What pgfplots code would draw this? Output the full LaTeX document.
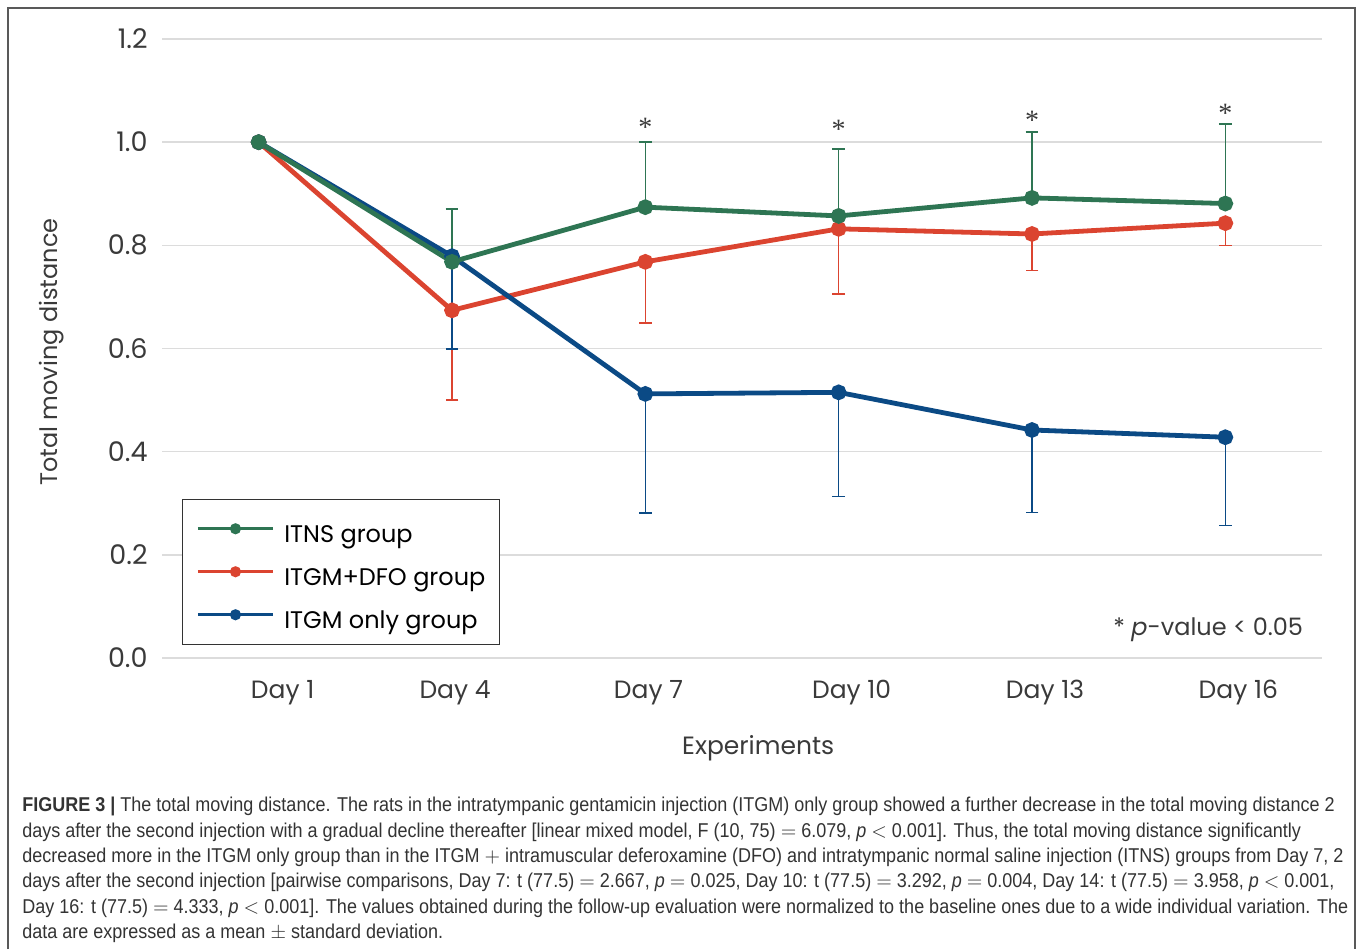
\documentclass[border=0pt]{standalone}
\usepackage{fontspec}
\setmainfont{Poppins}
\newfontfamily\capfont[FakeStretch=0.9]{Liberation Sans}
\newfontfamily\starfont{Liberation Serif}
\usepackage{pgfplots}
\usepackage{pgfplotstable}
\pgfplotsset{compat=1.18}

\definecolor{cgreen}{HTML}{2E7553}
\definecolor{cred}{HTML}{DB4430}
\definecolor{cblue}{HTML}{0B4A85}
\definecolor{cgrid}{HTML}{DCDCDC}
\definecolor{ctext}{HTML}{3A3A3A}

% normalised total moving distance, mean and one-sided SD bar
\pgfplotstableread{
x y e
0 1.000 0
1 0.768 0.103
2 0.874 0.126
3 0.857 0.130
4 0.892 0.128
5 0.881 0.154
}\itns
\pgfplotstableread{
x y e
0 1.000 0
1 0.674 0.174
2 0.768 0.118
3 0.832 0.126
4 0.822 0.071
5 0.843 0.043
}\dfo
\pgfplotstableread{
x y e
0 1.000 0
1 0.779 0.180
2 0.512 0.231
3 0.515 0.202
4 0.442 0.160
5 0.428 0.171
}\itgm

\begin{document}
\begin{tikzpicture}
\useasboundingbox (0,0) rectangle (679pt,474.5pt);
\draw[color=black!65, line width=1pt] (4pt,0) -- (4pt,470.5pt) -- (677.5pt,470.5pt) -- (677.5pt,0);
\begin{axis}[
  at={(81pt,145.5pt)}, anchor=south west,
  scale only axis, width=580pt, height=309.5pt,
  xmin=-0.5, xmax=5.5, ymin=0, ymax=1.2,
  ytick={0,0.2,0.4,0.6,0.8,1.0,1.2},
  xtick={0.124,1.016,2.016,3.067,4.067,5.067},
  xticklabels={Day 1,Day 4,Day 7,Day 10,Day 13,Day 16},
  ymajorgrids, xmajorgrids=false,
  grid style={cgrid, line width=0.75pt},
  axis line style={draw=none},
  major tick length=0pt,
  /pgf/number format/assume math mode=true,
  tick label style={text=ctext},
  yticklabel style={/pgf/number format/fixed, /pgf/number format/fixed zerofill,
    /pgf/number format/precision=1, anchor=east, inner sep=0pt, xshift=-7pt,
    font=\fontsize{13.5}{15}\selectfont},
  xticklabel style={anchor=north, inner sep=0pt, yshift=-11pt,
    font=\fontsize{12.5}{15}\selectfont},
  xlabel={Experiments},
  xlabel style={at={(axis description cs:0.514,-0.1453)}, anchor=center,
    font=\fontsize{12.5}{15}\selectfont, text=ctext},
  ylabel={Total moving distance},
  ylabel style={at={(axis description cs:-0.0948,0.494)}, anchor=center,
    font=\fontsize{12}{15}\selectfont, text=ctext},
  legend image code/.code={
    \draw[#1, line width=1.3pt] (0pt,0pt) -- (37.5pt,0pt);
    \fill[#1] (18.75pt,0pt) circle (2.4pt);},
  legend style={at={(rel axis cs:0.0172,0.021)}, anchor=south west,
    draw=black!80, line width=0.75pt,
    font=\fontsize{12}{15}\selectfont,
    nodes={inner sep=0pt, text height=15pt, text depth=1pt},
    column sep=5pt, row sep=5.5pt, inner xsep=7pt, inner ysep=6.75pt},
  legend cell align=left,
]
\addplot[cred, line width=2.4pt, mark=*, mark size=2.7pt, mark options={solid},
  forget plot,
  error bars/.cd, y dir=minus, y explicit,
  error bar style={line width=0.8pt, cred},
  error mark options={rotate=90, mark size=3.2pt, line width=0.8pt, cred}]
  table[x=x, y=y, y error=e]{\dfo};
\addplot[cblue, line width=2.4pt, mark=*, mark size=2.7pt, mark options={solid},
  forget plot,
  error bars/.cd, y dir=minus, y explicit,
  error bar style={line width=0.8pt, cblue},
  error mark options={rotate=90, mark size=3.2pt, line width=0.8pt, cblue}]
  table[x=x, y=y, y error=e]{\itgm};
\addplot[cgreen, line width=2.4pt, mark=*, mark size=2.7pt, mark options={solid},
  forget plot,
  error bars/.cd, y dir=plus, y explicit,
  error bar style={line width=0.8pt, cgreen},
  error mark options={rotate=90, mark size=3.2pt, line width=0.8pt, cgreen}]
  table[x=x, y=y, y error=e]{\itns};
\addlegendimage{cgreen}
\addlegendentry{ITNS group}
\addlegendimage{cred}
\addlegendentry{ITGM+DFO group}
\addlegendimage{cblue}
\addlegendentry{ITGM only group}
% significance stars above the ITNS error bars
\node[font=\starfont\fontsize{14}{14}\selectfont, text=ctext, anchor=base] at (axis cs:2,1.011) {*};
\node[font=\starfont\fontsize{14}{14}\selectfont, text=ctext, anchor=base] at (axis cs:3,1.007) {*};
\node[font=\starfont\fontsize{14}{14}\selectfont, text=ctext, anchor=base] at (axis cs:4,1.025) {*};
\node[font=\starfont\fontsize{14}{14}\selectfont, text=ctext, anchor=base] at (axis cs:5,1.038) {*};
\node[font=\fontsize{12}{15}\selectfont, text=ctext, anchor=base east, inner sep=0pt]
  at (axis cs:5.404,0.0446) {* \textit{p}-value < 0.05};
\end{axis}
\node[anchor=north west, inner sep=0pt, align=left, text=black!80,
  font=\capfont\fontsize{10}{12.65}\selectfont] at (11pt,76pt) {%
{\bfseries FIGURE 3 |} The total moving distance. The rats in the intratympanic gentamicin injection (ITGM) only group showed a further decrease in the total moving distance 2\\
days after the second injection with a gradual decline thereafter [linear mixed model, F (10, 75) $=$ 6.079, \textit{p} $<$ 0.001]. Thus, the total moving distance significantly\\
decreased more in the ITGM only group than in the ITGM $+$ intramuscular deferoxamine (DFO) and intratympanic normal saline injection (ITNS) groups from Day 7, 2\\
days after the second injection [pairwise comparisons, Day 7: t (77.5) $=$ 2.667, \textit{p} $=$ 0.025, Day 10: t (77.5) $=$ 3.292, \textit{p} $=$ 0.004, Day 14: t (77.5) $=$ 3.958, \textit{p} $<$ 0.001,\\
Day 16: t (77.5) $=$ 4.333, \textit{p} $<$ 0.001]. The values obtained during the follow-up evaluation were normalized to the baseline ones due to a wide individual variation. The\\
data are expressed as a mean $\pm$ standard deviation.};
\end{tikzpicture}
\end{document}
